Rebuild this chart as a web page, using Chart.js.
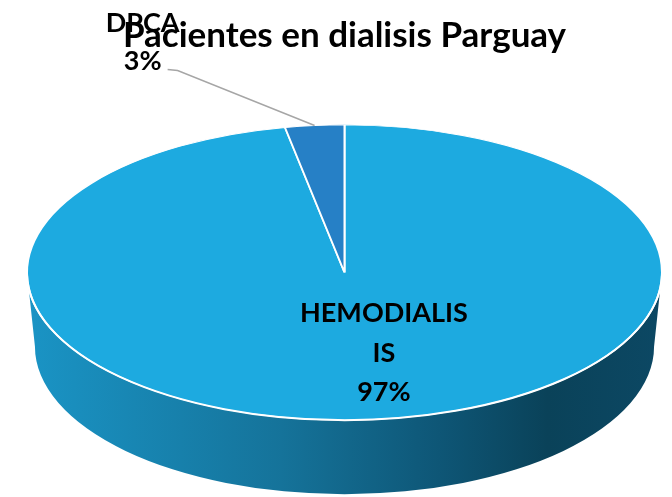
<!DOCTYPE html>
<html>
<head>
<meta charset="utf-8">
<script src="https://cdn.jsdelivr.net/npm/chart.js@4/dist/chart.umd.min.js"></script>
<style>
  html, body { margin: 0; background: #fff; }
  #wrap { width: 672px; height: 497px; }
</style>
</head>
<body>
<div id="wrap"><canvas id="pie"></canvas></div>
<script>
const categories = ['HEMODIALISIS', 'DPCA'];
const shares = [97, 3];
const labelLines = [['HEMODIALIS', 'IS'], ['DPCA']];
const sliceColors = ['#1DAAE0', '#2680C6'];
const titleText = 'Pacientes en dialisis Parguay';

// look of the tilted pie
const TILT = 0.465;
const DEPTH = 74;
const LABEL_FONT = 'bold 27px Lato';

function pct(i) {
    const total = shares.reduce((a, b) => a + b, 0);
    return Math.round(shares[i] / total * 100) + '%';
}

const tiltPie = {
    id: 'tiltPie',
    beforeDatasetsDraw(chart) {
        const ctx = chart.ctx;
        const arcs = chart.getDatasetMeta(0).data;
        const {x, y, outerRadius: r} = arcs[0];
        const ry = r * TILT;

        const grad = ctx.createLinearGradient(x - r, 0, x + r, 0);
        grad.addColorStop(0, '#1a94c5');
        grad.addColorStop(0.4, '#15739a');
        grad.addColorStop(0.65, '#0e5676');
        grad.addColorStop(0.82, '#0a4259');
        grad.addColorStop(1, '#0c4864');

        // side wall, only the front half shows
        ctx.save();
        arcs.forEach(arc => {
            for (let k = -1; k <= 1; k++) {
                const a0 = Math.max(arc.startAngle + k * 2 * Math.PI, 0);
                const a1 = Math.min(arc.endAngle + k * 2 * Math.PI, Math.PI);
                if (a1 <= a0) continue;
                ctx.beginPath();
                ctx.ellipse(x, y, r, ry, 0, a0, a1);
                ctx.ellipse(x, y + DEPTH, r * 0.975, ry, 0, a1, a0, true);
                ctx.closePath();
                ctx.fillStyle = grad;
                ctx.fill();
            }
        });
        ctx.restore();

        // squash the top face into an ellipse
        ctx.save();
        ctx.translate(x, y);
        ctx.scale(1, TILT);
        ctx.translate(-x, -y);
    },
    afterDatasetsDraw(chart) {
        const ctx = chart.ctx;
        ctx.restore();

        const arcs = chart.getDatasetMeta(0).data;
        const {x, y, outerRadius: r} = arcs[0];
        const ry = r * TILT;

        // white rim on the front edge
        ctx.save();
        ctx.beginPath();
        ctx.ellipse(x, y, r, ry, 0, 0.02, Math.PI - 0.02);
        ctx.strokeStyle = '#ffffff';
        ctx.lineWidth = 2;
        ctx.stroke();
        ctx.restore();

        ctx.save();
        ctx.font = LABEL_FONT;
        ctx.fillStyle = '#000';
        ctx.textAlign = 'center';
        ctx.textBaseline = 'alphabetic';

        // big slice: label inside
        let a = arcs[0];
        let mid = (a.startAngle + a.endAngle) / 2;
        const lx = x + Math.cos(mid) * r * 0.55 + 23;
        const ly = y + Math.sin(mid) * ry * 0.55;
        const inner = labelLines[0].concat([pct(0)]);
        inner.forEach((t, i) => ctx.fillText(t, lx, ly - 31 + i * 39.5));

        // small slice: label outside with leader line
        a = arcs[1];
        mid = (a.startAngle + a.endAngle) / 2;
        const ex = x + Math.cos(mid) * r;
        const ey = y + Math.sin(mid) * ry;
        ctx.beginPath();
        ctx.moveTo(ex, ey);
        ctx.lineTo(ex - 137, ey - 55);
        ctx.lineTo(ex - 147, ey - 56);
        ctx.strokeStyle = '#a6a6a6';
        ctx.lineWidth = 1.5;
        ctx.stroke();
        const outer = labelLines[1].concat([pct(1)]);
        outer.forEach((t, i) => ctx.fillText(t, ex - 172, ey - 94 + i * 38));
        ctx.restore();
    }
};

new Chart(document.getElementById('pie'), {
    type: 'pie',
    data: {
        labels: categories,
        datasets: [{
            data: shares,
            backgroundColor: sliceColors,
            borderColor: '#ffffff',
            borderWidth: 2,
            radius: 317.5,
            clip: false
        }]
    },
    options: {
        responsive: true,
        maintainAspectRatio: false,
        animation: false,
        events: [],
        layout: {padding: {left: 17, right: 0, top: 0, bottom: 9}},
        plugins: {
            legend: {display: false},
            tooltip: {enabled: false},
            title: {
                display: true,
                text: titleText,
                color: '#000',
                font: {family: 'Lato', size: 35, weight: 'bold'},
                padding: {top: 15, bottom: 0}
            }
        }
    },
    plugins: [tiltPie]
});
</script>
</body>
</html>
